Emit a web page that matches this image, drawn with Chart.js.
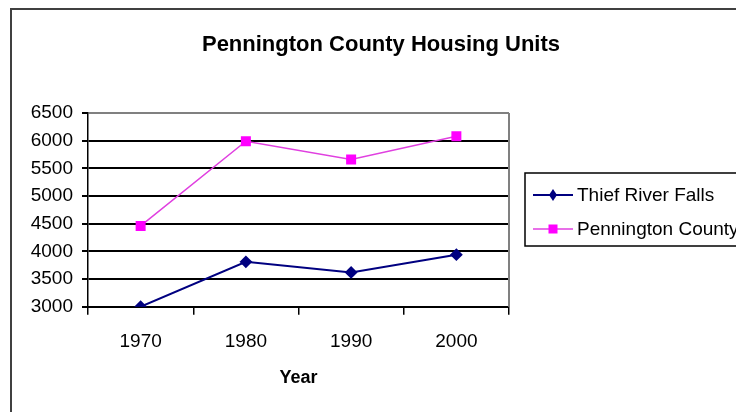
<!DOCTYPE html>
<html>
<head>
<meta charset="utf-8">
<script src="https://cdn.jsdelivr.net/npm/chart.js@4.4.1/dist/chart.umd.min.js"></script>
<style>
html,body{margin:0;padding:0;background:#fff;overflow:hidden;}
#wrap{width:736px;height:412px;position:relative;}
</style>
</head>
<body>
<div id="wrap"><canvas id="c" width="736" height="412"></canvas></div>
<script>
const categories = ['1970', '1980', '1990', '2000'];
const thiefRiverFalls = [3000, 3810, 3620, 3940];
const penningtonCounty = [4460, 5990, 5660, 6080];
const seriesNames = ['Thief River Falls', 'Pennington County'];
const chartTitle = 'Pennington County Housing Units';
const xTitle = 'Year';
const yMin = 3000, yMax = 6500, yStep = 500;

const FONT = '"Liberation Sans", Arial, sans-serif';

const decor = {
  id: 'decor',
  beforeDraw(chart) {
    const ctx = chart.ctx;
    ctx.save();
    ctx.strokeStyle = '#404040';
    ctx.lineWidth = 2;
    ctx.strokeRect(11, 9, 800, 500);
    ctx.restore();
  },
  afterDraw(chart) {
    const ctx = chart.ctx;
    const a = chart.chartArea;
    ctx.save();
    // plot area right border
    ctx.strokeStyle = '#808080';
    ctx.lineWidth = 2;
    ctx.beginPath();
    ctx.moveTo(a.right, a.top);
    ctx.lineTo(a.right, a.bottom);
    ctx.stroke();
    // title
    ctx.fillStyle = '#000';
    ctx.font = 'bold 22px ' + FONT;
    ctx.textAlign = 'center';
    ctx.textBaseline = 'middle';
    ctx.fillText(chartTitle, 381, 45);
    // legend
    const lx = 525, ly = 173, lw = 300, lh = 73;
    ctx.strokeStyle = '#000';
    ctx.lineWidth = 1.5;
    ctx.strokeRect(lx, ly, lw, lh);
    const rows = [195, 229];
    chart.data.datasets.forEach((ds, i) => {
      const y = rows[i];
      ctx.strokeStyle = ds.borderColor;
      ctx.lineWidth = ds.borderWidth;
      ctx.beginPath();
      ctx.moveTo(533, y);
      ctx.lineTo(573, y);
      ctx.stroke();
      ctx.fillStyle = ds.pointBackgroundColor;
      ctx.beginPath();
      const r = ds.pointRadius;
      if (ds.pointStyle === 'rect') {
        ctx.fillRect(553 - r * 0.75, y - r * 0.75, r * 1.5, r * 1.5);
      } else {
        ctx.moveTo(553, y - r * 1.2);
        ctx.lineTo(553 + r * 0.8, y);
        ctx.lineTo(553, y + r * 1.2);
        ctx.lineTo(553 - r * 0.8, y);
        ctx.closePath();
        ctx.fill();
      }
      ctx.fillStyle = '#000';
      ctx.font = '19px ' + FONT;
      ctx.textAlign = 'left';
      ctx.textBaseline = 'middle';
      ctx.fillText(seriesNames[i], 577, y + 1);
    });
    ctx.restore();
  }
};

new Chart(document.getElementById('c'), {
  type: 'line',
  data: {
    labels: categories,
    datasets: [
      {
        label: seriesNames[0],
        data: thiefRiverFalls,
        borderColor: '#000080',
        backgroundColor: '#000080',
        pointBackgroundColor: '#000080',
        pointBorderColor: '#000080',
        borderWidth: 2,
        pointStyle: 'rectRot',
        pointRadius: 5,
        pointHoverRadius: 5,
        tension: 0
      },
      {
        label: seriesNames[1],
        data: penningtonCounty,
        borderColor: '#e040e0',
        backgroundColor: '#ff00ff',
        pointBackgroundColor: '#ff00ff',
        pointBorderColor: '#ff00ff',
        borderWidth: 1.5,
        pointStyle: 'rect',
        pointRadius: 6,
        pointHoverRadius: 6,
        tension: 0
      }
    ]
  },
  options: {
    responsive: false,
    animation: false,
    events: [],
    layout: { padding: { left: 0, top: 113, right: 227, bottom: 0 } },
    plugins: {
      legend: { display: false },
      title: { display: false },
      tooltip: { enabled: false }
    },
    scales: {
      x: {
        offset: true,
        grid: {
          offset: true,
          drawOnChartArea: false,
          drawTicks: true,
          tickLength: 8,
          color: '#000',
          lineWidth: 1.5
        },
        border: { color: '#000', width: 2 },
        ticks: {
          color: '#000',
          font: { family: FONT, size: 19 },
          padding: 16,
          maxRotation: 0
        },
        title: {
          display: true,
          text: xTitle,
          color: '#000',
          font: { family: FONT, size: 18, weight: 'bold' },
          padding: { top: 0, bottom: 23 }
        },
        afterFit(scale) { scale.height = 412 - 306.7; }
      },
      y: {
        min: yMin,
        max: yMax,
        ticks: {
          stepSize: yStep,
          color: '#000',
          font: { family: FONT, size: 19 },
          padding: 9,
          callback: (v) => String(v)
        },
        grid: {
          color: (c) => (c.tick && c.tick.value === yMax) ? '#808080' : '#000',
          lineWidth: 2,
          tickLength: 6,
          tickColor: '#000'
        },
        border: { color: '#000', width: 1.5 },
        afterFit(scale) { scale.width = 88; }
      }
    }
  },
  plugins: [decor]
});
</script>
</body>
</html>
